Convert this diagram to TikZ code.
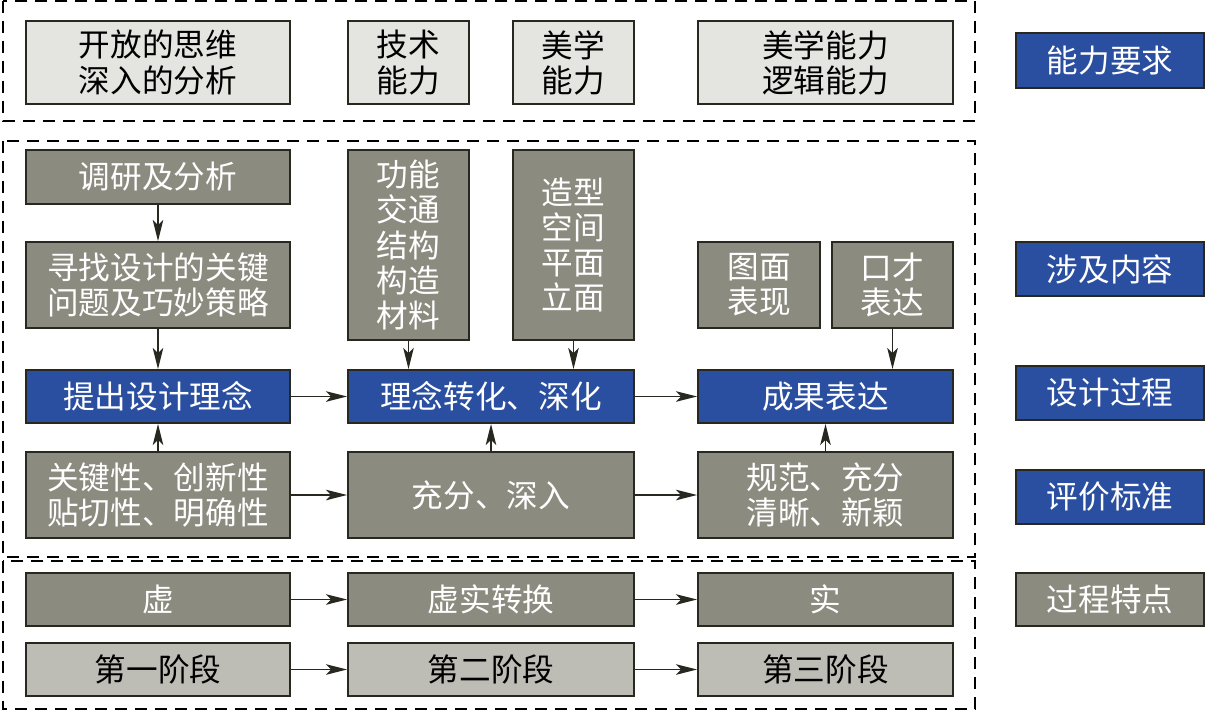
\documentclass[tikz,border=0pt]{standalone}
\usepackage{fontspec}
\usepackage{xcolor}
\usetikzlibrary{arrows.meta,positioning}
\newfontfamily\cjk{Noto Sans CJK SC}
\definecolor{deepblue}{RGB}{43,79,160}
\definecolor{darkgrey}{RGB}{140,139,128}
\definecolor{palegrey}{RGB}{228,228,224}
\definecolor{midgrey}{RGB}{189,189,181}
\definecolor{edgeline}{RGB}{40,40,32}

\begin{document}
\begin{tikzpicture}[
x=0.02cm,y=-0.02cm,
box/.style={draw=edgeline,line width=1.1pt,align=center,inner sep=0pt,font=\cjk\fontsize{18}{20}\selectfont},
palebox/.style={box,fill=palegrey,text=black},
darkbox/.style={box,fill=darkgrey,text=white},
bluebox/.style={box,fill=deepblue,text=white},
midbox/.style={box,fill=midgrey,text=black},
wide/.style={minimum width=5.28cm},
narrow/.style={minimum width=2.42cm},
frame/.style={draw=black,line width=1.3pt,dash pattern=on 0.24cm off 0.16cm},
arr/.style={-{Stealth[length=0.42cm,width=0.21cm,inset=0.1cm]},line width=1pt,edgeline}
]
\useasboundingbox (0,0) rectangle (1206,711);
% dashed frames
\draw[frame] (3,1) rectangle (975,121);
\draw[frame] (3,141) rectangle (975,557);
\draw[frame] (3,561) rectangle (975,709);
% ability requirements
\node[palebox,wide,minimum height=1.66cm] (open) at (158,62.5) {开放的思维\\深入的分析};
\node[palebox,narrow,minimum height=1.66cm] (tech) at (408.5,62.5) {技术\\能力};
\node[palebox,narrow,minimum height=1.66cm] (aest) at (573.5,62.5) {美学\\能力};
\node[palebox,minimum width=5.1cm,minimum height=1.66cm] (logic) at (825.5,62.5) {美学能力\\逻辑能力};
% content involved
\node[darkbox,wide,minimum height=1.08cm] (survey) at (158,177) {调研及分析};
\node[darkbox,wide,minimum height=1.72cm] (key) at (158,285) {寻找设计的关键\\问题及巧妙策略};
\node[darkbox,narrow,minimum height=3.8cm] (func) at (408.5,245) {功能\\交通\\结构\\构造\\材料};
\node[darkbox,narrow,minimum height=3.8cm] (form) at (573.5,245) {造型\\空间\\平面\\立面};
\node[darkbox,minimum width=2.44cm,minimum height=1.72cm] (draw) at (759,285) {图面\\表现};
\node[darkbox,narrow,minimum height=1.72cm] (speech) at (892.5,285) {口才\\表达};
% design process
\node[bluebox,wide,minimum height=1.06cm] (idea) at (158,396.5) {提出设计理念};
\node[bluebox,minimum width=5.72cm,minimum height=1.06cm] (deepen) at (491,396.5) {理念转化、深化};
\node[bluebox,minimum width=5.1cm,minimum height=1.06cm] (result) at (825.5,396.5) {成果表达};
% evaluation criteria
\node[darkbox,wide,minimum height=1.72cm] (crit1) at (158,495) {关键性、创新性\\贴切性、明确性};
\node[darkbox,minimum width=5.72cm,minimum height=1.72cm] (crit2) at (491,495) {充分、深入};
\node[darkbox,minimum width=5.1cm,minimum height=1.72cm] (crit3) at (825.5,495) {规范、充分\\清晰、新颖};
% process features
\node[darkbox,wide,minimum height=1.06cm] (virt) at (158,599.5) {虚};
\node[darkbox,minimum width=5.72cm,minimum height=1.06cm] (trans) at (491,599.5) {虚实转换};
\node[darkbox,minimum width=5.1cm,minimum height=1.06cm] (real) at (825.5,599.5) {实};
\node[midbox,wide,minimum height=1.06cm] (st1) at (158,669.5) {第一阶段};
\node[midbox,minimum width=5.72cm,minimum height=1.06cm] (st2) at (491,669.5) {第二阶段};
\node[midbox,minimum width=5.1cm,minimum height=1.06cm] (st3) at (825.5,669.5) {第三阶段};
% row labels
\node[bluebox,minimum width=3.76cm,minimum height=1.1cm] (lab1) at (1110,60.5) {能力要求};
\node[bluebox,minimum width=3.76cm,minimum height=1.08cm] (lab2) at (1110,269) {涉及内容};
\node[bluebox,minimum width=3.76cm,minimum height=1.08cm] (lab3) at (1110,393) {设计过程};
\node[bluebox,minimum width=3.76cm,minimum height=1.08cm] (lab4) at (1110,497) {评价标准};
\node[darkbox,minimum width=3.76cm,minimum height=1.06cm] (lab5) at (1110,599.5) {过程特点};
% arrows
\draw[arr] (survey)--(key);
\draw[arr] (key)--(idea);
\draw[arr] (func.south)--(func.south |- deepen.north);
\draw[arr] (form.south)--(form.south |- deepen.north);
\draw[arr] (speech.south)--(speech.south |- result.north);
\draw[arr] (crit1)--(idea);
\draw[arr] (crit2)--(deepen);
\draw[arr] (crit3)--(result);
\draw[arr] (idea)--(deepen);
\draw[arr] (deepen)--(result);
\draw[arr] (crit1)--(crit2);
\draw[arr] (crit2)--(crit3);
\draw[arr] (virt)--(trans);
\draw[arr] (trans)--(real);
\draw[arr] (st1)--(st2);
\draw[arr] (st2)--(st3);
\end{tikzpicture}
\end{document}
